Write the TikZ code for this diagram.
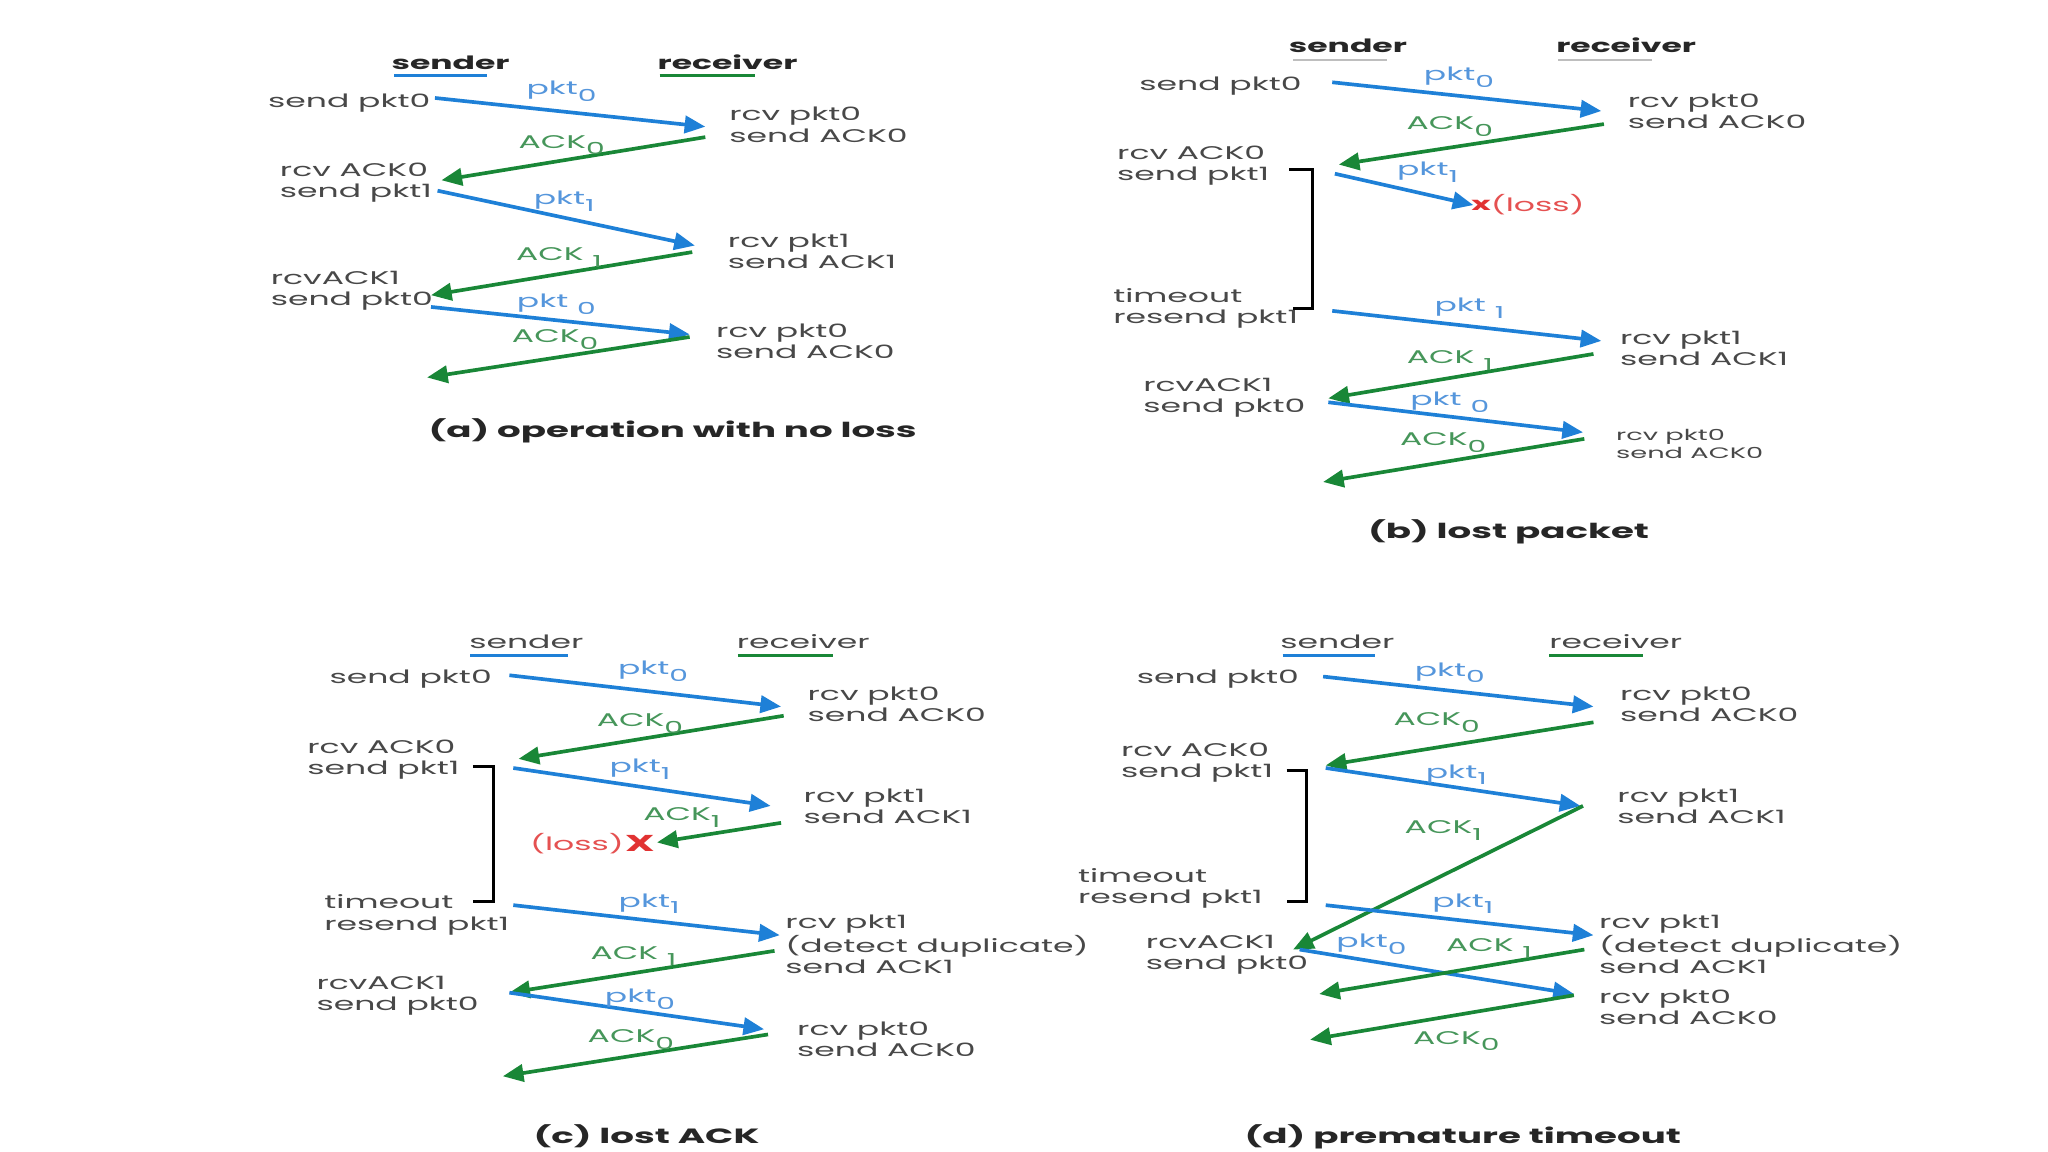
\documentclass[tikz,border=0pt]{standalone}
\usepackage{fontspec}
\setmainfont{Poppins}[FakeStretch=1.8]
\usetikzlibrary{arrows.meta}
\definecolor{txtgray}{RGB}{72,72,72}
\definecolor{arrblue}{RGB}{30,128,215}
\definecolor{arrgreen}{RGB}{25,135,55}
\definecolor{pktblue}{RGB}{85,150,220}
\definecolor{ackgreen}{RGB}{70,150,90}
\definecolor{lossred}{RGB}{225,50,50}
\definecolor{ulgray}{RGB}{190,190,190}
\newcommand\lsub[1]{\raisebox{-0.65ex}{\fontsize{7.2}{7.2}\selectfont #1}}
\tikzset{
  txt/.style={text=txtgray, font=\fontsize{8}{9.2}\selectfont, align=left, inner sep=0pt, anchor=west},
  smalltxt/.style={txt, font=\fontsize{6.6}{7.8}\selectfont},
  pktl/.style={text=pktblue, font=\fontsize{8}{8.8}\selectfont, inner sep=0pt},
  ackl/.style={text=ackgreen, font=\fontsize{8}{8.8}\selectfont, inner sep=0pt},
  hdr/.style={text=black!85, font=\bfseries\fontsize{8}{8.8}\selectfont, inner sep=0pt},
  hdrlight/.style={text=txtgray, font=\fontsize{8}{8.8}\selectfont, inner sep=0pt},
  captxt/.style={text=black!85, font=\bfseries\fontsize{9}{10}\selectfont, inner sep=0pt},
  pkta/.style={draw=arrblue, line width=1.6pt, -{Triangle[length=9pt,width=7.5pt]}},
  acka/.style={draw=arrgreen, line width=1.6pt, -{Triangle[length=9pt,width=7.5pt]}},
  brk/.style={draw=black, line width=1.3pt},
  ulb/.style={draw=arrblue, line width=1.2pt},
  ulg/.style={draw=arrgreen, line width=1.2pt},
  ulgr/.style={draw=ulgray, line width=1pt},
  lossx/.style={text=lossred, font=\bfseries\fontsize{8}{8.8}\selectfont, inner sep=0pt},
  losst/.style={text=lossred!85, font=\fontsize{8}{8.8}\selectfont, inner sep=0pt}
}
\begin{document}
\begin{tikzpicture}[x=0.02cm, y=-0.02cm]
\useasboundingbox[fill=white] (0,0) rectangle (1568,882);

% ================= (a) =================
\node[hdr] (a-snd) at (345,48) {sender};
\node[hdr] (a-rcv) at (557,48) {receiver};
\draw[ulb] (302,58) -- (373,58);
\draw[ulg] (505,58) -- (578,58);
\node[txt] (a-t1) at (205,79) {send pkt0};
\node[txt] (a-t2) at (558,95.5) {rcv pkt0\\send ACK0};
\node[txt] (a-t3) at (214,140) {rcv ACK0\\send pkt1};
\node[txt] (a-t4) at (557,192.5) {rcv pkt1\\send ACK1};
\node[txt] (a-t5) at (207,222.5) {rcvACK1\\send pkt0};
\node[txt] (a-t6) at (548,261) {rcv pkt0\\send ACK0};
\coordinate (a-s1) at (333,75);  \coordinate (a-r1) at (540,97);
\coordinate (a-r2) at (540,105); \coordinate (a-s2) at (338,138);
\coordinate (a-s3) at (335,146); \coordinate (a-r3) at (532,188);
\coordinate (a-r4) at (530,193); \coordinate (a-s4) at (330,226);
\coordinate (a-s5) at (330,235); \coordinate (a-r5) at (528,256);
\coordinate (a-r6) at (528,258); \coordinate (a-s6) at (327,289);
\draw[pkta] (a-s1) -- (a-r1);
\draw[acka] (a-r2) -- (a-s2);
\draw[pkta] (a-s3) -- (a-r3);
\draw[acka] (a-r4) -- (a-s4);
\draw[pkta] (a-s5) -- (a-r5);
\draw[acka] (a-r6) -- (a-s6);
\node[pktl] (a-l1) at (430,70) {pkt\lsub{0}};
\node[ackl] (a-l2) at (430,111) {ACK\lsub{0}};
\node[pktl] (a-l3) at (432,154) {pkt\lsub{1}};
\node[ackl] (a-l4) at (428,197) {ACK \lsub{1}};
\node[pktl] (a-l5) at (426,233) {pkt \lsub{0}};
\node[ackl] (a-l6) at (425,260) {ACK\lsub{0}};
\node[captxt] (a-cap) at (515,330) {(a) operation with no loss};

% ================= (b) =================
\node[hdr] (b-snd) at (1032,35) {sender};
\node[hdr] (b-rcv) at (1245,35) {receiver};
\draw[ulgr] (990,46) -- (1062,46);
\draw[ulgr] (1193,46) -- (1265,46);
\node[txt] (b-t1) at (872,66) {send pkt0};
\node[txt] (b-t2) at (1246,85) {rcv pkt0\\send ACK0};
\node[txt] (b-t3) at (855,127) {rcv ACK0\\send pkt1};
\node[txt] (b-t4) at (852,236) {timeout\\resend pkt1};
\node[txt] (b-t5) at (1240,266.5) {rcv pkt1\\send ACK1};
\node[txt] (b-t6) at (875,304.5) {rcvACK1\\send pkt0};
\node[smalltxt] (b-t7) at (1237,340) {rcv pkt0\\send ACK0};
\coordinate (b-s1) at (1020,63);  \coordinate (b-r1) at (1226,85);
\coordinate (b-r2) at (1228,95);  \coordinate (b-s2) at (1025,126);
\coordinate (b-s3) at (1022,133); \coordinate (b-x) at (1128,157);
\coordinate (b-s4) at (1020,238); \coordinate (b-r4) at (1226,261);
\coordinate (b-r5) at (1220,271); \coordinate (b-s5) at (1017,305);
\coordinate (b-s6) at (1017,308); \coordinate (b-r6) at (1212,331);
\coordinate (b-r7) at (1213,336); \coordinate (b-s7) at (1013,369);
\draw[pkta] (b-s1) -- (b-r1);
\draw[acka] (b-r2) -- (b-s2);
\draw[pkta] (b-s3) -- (b-x);
\draw[pkta] (b-s4) -- (b-r4);
\draw[acka] (b-r5) -- (b-s5);
\draw[pkta] (b-s6) -- (b-r6);
\draw[acka] (b-r7) -- (b-s7);
\node[pktl] (b-l1) at (1117,59) {pkt\lsub{0}};
\node[ackl] (b-l2) at (1110,97) {ACK\lsub{0}};
\node[pktl] (b-l3) at (1093,132) {pkt\lsub{1}};
\node[pktl] (b-l4) at (1125,236) {pkt \lsub{1}};
\node[ackl] (b-l5) at (1110,276) {ACK \lsub{1}};
\node[pktl] (b-l6) at (1110,308) {pkt \lsub{0}};
\node[ackl] (b-l7) at (1105,339) {ACK\lsub{0}};
\node[lossx] (b-xm) at (1134,157) {x};
\node[losst, anchor=west] (b-loss) at (1141,157) {(loss)};
\draw[brk] (987,130) -- (1005,130) -- (1005,236) -- (990,236);
\node[captxt] (b-cap) at (1155,407) {(b) lost packet};

% ================= (c) =================
\node[hdrlight] (c-snd) at (403,491) {sender};
\node[hdrlight] (c-rcv) at (615,491) {receiver};
\draw[ulb] (360,502) -- (435,502);
\draw[ulg] (565,502) -- (638,502);
\node[txt] (c-t1) at (252,520) {send pkt0};
\node[txt] (c-t2) at (618,539) {rcv pkt0\\send ACK0};
\node[txt] (c-t3) at (235,581.5) {rcv ACK0\\send pkt1};
\node[txt] (c-t4) at (615,617.5) {rcv pkt1\\send ACK1};
\node[txt] (c-t5) at (248,700.5) {timeout\\resend pkt1};
\node[txt] (c-t6) at (601,723) {rcv pkt1\\(detect duplicate)\\send ACK1};
\node[txt] (c-t7) at (242,762.5) {rcvACK1\\send pkt0};
\node[txt] (c-t8) at (610,796) {rcv pkt0\\send ACK0};
\coordinate (c-s1) at (390,517); \coordinate (c-r1) at (598,541);
\coordinate (c-r2) at (600,548); \coordinate (c-s2) at (397,581);
\coordinate (c-s3) at (393,588); \coordinate (c-r3) at (590,617);
\coordinate (c-r4) at (598,630); \coordinate (c-x) at (503,645);
\coordinate (c-s5) at (393,693); \coordinate (c-r5) at (597,716);
\coordinate (c-r6) at (593,728); \coordinate (c-s6) at (390,760);
\coordinate (c-s7) at (390,760); \coordinate (c-r7) at (585,788);
\coordinate (c-r8) at (588,792); \coordinate (c-s8) at (385,824);
\draw[pkta] (c-s1) -- (c-r1);
\draw[acka] (c-r2) -- (c-s2);
\draw[pkta] (c-s3) -- (c-r3);
\draw[acka] (c-r4) -- (c-x);
\draw[pkta] (c-s5) -- (c-r5);
\draw[acka] (c-r6) -- (c-s6);
\draw[pkta] (c-s7) -- (c-r7);
\draw[acka] (c-r8) -- (c-s8);
\node[pktl] (c-l1) at (500,514) {pkt\lsub{0}};
\node[ackl] (c-l2) at (490,554) {ACK\lsub{0}};
\node[pktl] (c-l3) at (490,589) {pkt\lsub{1}};
\node[ackl] (c-l4) at (522,626) {ACK\lsub{1}};
\node[pktl] (c-l5) at (497,692) {pkt\lsub{1}};
\node[ackl] (c-l6) at (485,732) {ACK \lsub{1}};
\node[pktl] (c-l7) at (490,765) {pkt\lsub{0}};
\node[ackl] (c-l8) at (483,796) {ACK\lsub{0}};
\node[lossx, font=\bfseries\fontsize{10}{10}\selectfont] (c-xm) at (490,646) {X};
\node[losst, anchor=east] (c-loss) at (478,646) {(loss)};
\draw[brk] (362,587) -- (378,587) -- (378,690) -- (362,690);
\node[captxt] (c-cap) at (495,870) {(c) lost ACK};

% ================= (d) =================
\node[hdrlight] (d-snd) at (1024,491) {sender};
\node[hdrlight] (d-rcv) at (1237,491) {receiver};
\draw[ulb] (982,502) -- (1053,502);
\draw[ulg] (1186,502) -- (1258,502);
\node[txt] (d-t1) at (870,520) {send pkt0};
\node[txt] (d-t2) at (1240,539) {rcv pkt0\\send ACK0};
\node[txt] (d-t3) at (858,584) {rcv ACK0\\send pkt1};
\node[txt] (d-t4) at (1238,617.5) {rcv pkt1\\send ACK1};
\node[txt] (d-t5) at (825,680.5) {timeout\\resend pkt1};
\node[txt] (d-t6) at (1224,723) {rcv pkt1\\(detect duplicate)\\send ACK1};
\node[txt] (d-t7) at (877,731) {rcvACK1\\send pkt0};
\node[txt] (d-t8) at (1224,771.5) {rcv pkt0\\send ACK0};
\coordinate (d-s1) at (1013,518); \coordinate (d-r1) at (1220,541);
\coordinate (d-r2) at (1220,553); \coordinate (d-s2) at (1015,586);
\coordinate (d-s3) at (1015,588); \coordinate (d-r3) at (1210,617);
\coordinate (d-r4) at (1212,617); \coordinate (d-s4) at (990,727);
\coordinate (d-s5) at (1015,693); \coordinate (d-r5) at (1220,716);
\coordinate (d-s6) at (995,727);  \coordinate (d-r6) at (1205,761);
\coordinate (d-r7) at (1213,727); \coordinate (d-s7) at (1010,761);
\coordinate (d-r8) at (1205,762); \coordinate (d-s8) at (1003,796);
\draw[pkta] (d-s1) -- (d-r1);
\draw[acka] (d-r2) -- (d-s2);
\draw[pkta] (d-s3) -- (d-r3);
\draw[acka] (d-r4) -- (d-s4);
\draw[pkta] (d-s5) -- (d-r5);
\draw[pkta] (d-s6) -- (d-r6);
\draw[acka] (d-r7) -- (d-s7);
\draw[acka] (d-r8) -- (d-s8);
\node[pktl] (d-l1) at (1110,515) {pkt\lsub{0}};
\node[ackl] (d-l2) at (1100,553) {ACK\lsub{0}};
\node[pktl] (d-l3) at (1115,593) {pkt\lsub{1}};
\node[ackl] (d-l4) at (1105,636) {ACK\lsub{1}};
\node[pktl] (d-l5) at (1120,692) {pkt\lsub{1}};
\node[pktl] (d-l6) at (1050,723) {pkt\lsub{0}};
\node[ackl] (d-l7) at (1140,726) {ACK \lsub{1}};
\node[ackl] (d-l8) at (1115,797) {ACK\lsub{0}};
\draw[brk] (985,590) -- (1000,590) -- (1000,690) -- (985,690);
\node[captxt] (d-cap) at (1120,870) {(d) premature timeout};
\end{tikzpicture}
\end{document}
